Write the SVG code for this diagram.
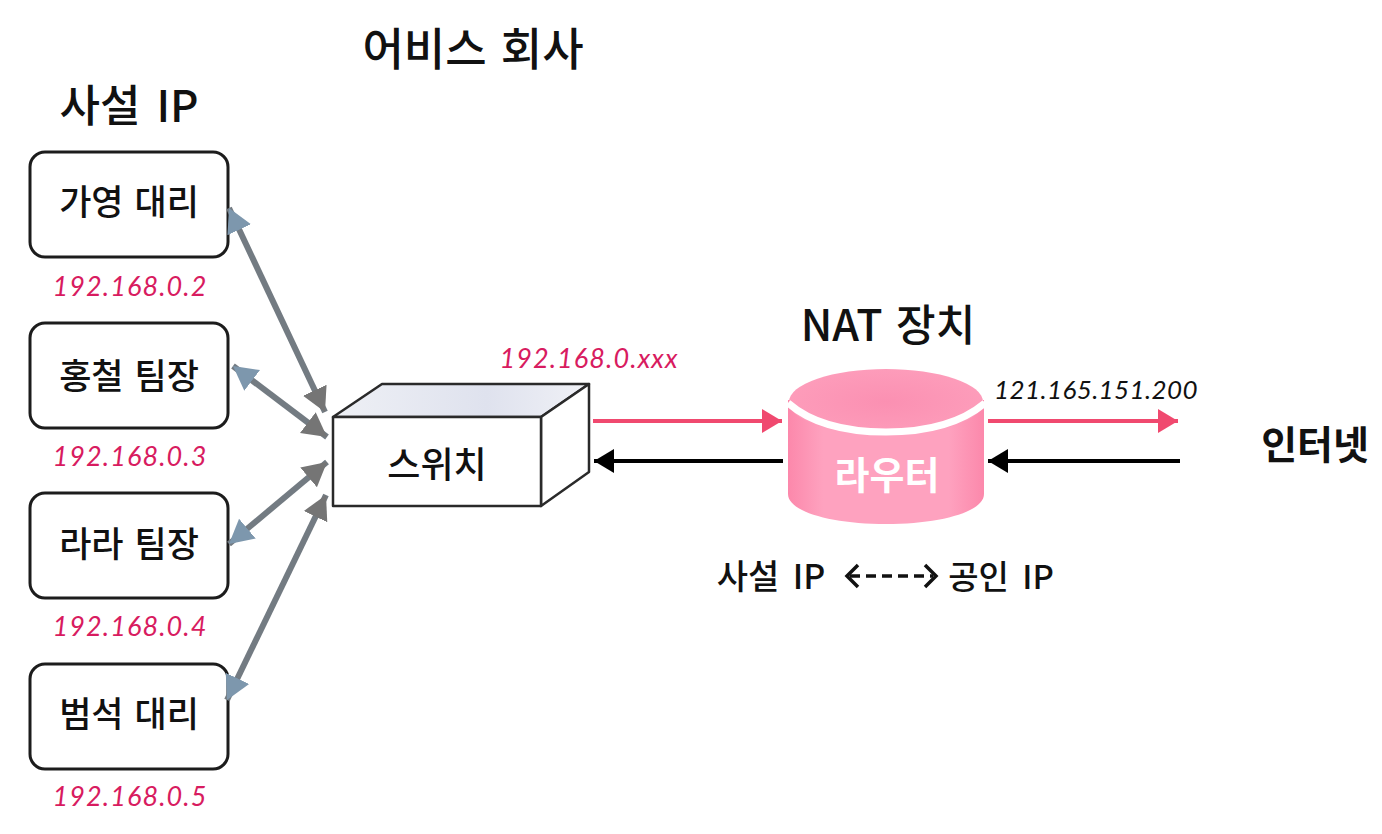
<svg xmlns="http://www.w3.org/2000/svg" width="1382" height="834" viewBox="0 0 1382 834">
<style>
text{font-family:"Noto Sans CJK KR","Noto Sans",sans-serif;fill:#111;text-anchor:middle}
.h{font-size:42px;font-weight:500}
.n{font-size:35px;font-weight:500;word-spacing:3px}
.ip{font-family:"Lato","Noto Sans",sans-serif;font-size:27px;fill:#d81b60;font-style:italic;letter-spacing:1.1px}
.box{fill:#fff;stroke:#1c1c1c;stroke-width:3}
.sw{stroke:#2a2a2a;stroke-width:2.5;stroke-linejoin:round}
.g{stroke:#737b82;stroke-width:6;fill:none}
.p{stroke:#f0496f;stroke-width:4;fill:none;marker-end:url(#mp)}
.k{stroke:#000;stroke-width:4;fill:none;marker-end:url(#mk)}
</style>
<defs>
<marker id="mp" markerUnits="userSpaceOnUse" markerWidth="22" markerHeight="26" refX="20" refY="13" orient="auto"><path d="M0 1L20 13L0 25Z" fill="#f0496f"/></marker>
<marker id="mk" markerUnits="userSpaceOnUse" markerWidth="22" markerHeight="26" refX="20" refY="13" orient="auto"><path d="M0 1L20 13L0 25Z" fill="#000"/></marker>
<marker id="mg" markerUnits="userSpaceOnUse" markerWidth="26" markerHeight="28" refX="24" refY="14" orient="auto"><path d="M0 1L24 14L0 27Z" fill="#757575"/></marker>
<marker id="mb" markerUnits="userSpaceOnUse" markerWidth="26" markerHeight="28" refX="24" refY="14" orient="auto-start-reverse"><path d="M0 1L24 14L0 27Z" fill="#7d97ad"/></marker>
<linearGradient id="top" x1="0" x2="1" y1="0" y2="0"><stop offset="0" stop-color="#eef0f5"/><stop offset=".6" stop-color="#dfe2ee"/><stop offset="1" stop-color="#f0f1f6"/></linearGradient>
<linearGradient id="side" x1="0" x2="1" y1="0" y2="1"><stop offset="0" stop-color="#fff"/><stop offset=".8" stop-color="#fff"/><stop offset="1" stop-color="#e4e6ee"/></linearGradient>
<linearGradient id="body" x1="0" x2="1" y1="0" y2="0"><stop offset="0" stop-color="#fc88ab"/><stop offset=".18" stop-color="#fea2bf"/><stop offset=".82" stop-color="#fea2bf"/><stop offset="1" stop-color="#fc88ab"/></linearGradient>
<radialGradient id="lid"><stop offset="0" stop-color="#fb90b2"/><stop offset="1" stop-color="#fd9cba"/></radialGradient>
</defs>
<rect width="1382" height="834" fill="#fff"/>
<text class="h" x="473" y="66" style="font-size:45px;word-spacing:4px">어비스 회사</text>
<text class="h" x="129" y="122" style="font-size:44px;word-spacing:6px">사설 IP</text>
<g id="node-gayoung"><rect class="box" x="30" y="152" width="198" height="105" rx="15"/><text class="n" x="129" y="215">가영 대리</text><text class="ip" x="130" y="296">192.168.0.2</text></g>
<g id="node-hongcheol"><rect class="box" x="30" y="323" width="198" height="105" rx="15"/><text class="n" x="129" y="389">홍철 팀장</text><text class="ip" x="130" y="466">192.168.0.3</text></g>
<g id="node-lara"><rect class="box" x="30" y="493" width="198" height="105" rx="15"/><text class="n" x="129" y="557">라라 팀장</text><text class="ip" x="130" y="636">192.168.0.4</text></g>
<g id="node-beomseok"><rect class="box" x="30" y="664" width="198" height="105" rx="15"/><text class="n" x="129" y="727">범석 대리</text><text class="ip" x="130" y="806">192.168.0.5</text></g>
<g id="node-switch">
<path class="sw" d="M333 417L382 384H589L541 417Z" fill="url(#top)"/>
<path class="sw" d="M541 417L589 384V472L541 506Z" fill="url(#side)"/>
<rect class="sw" x="333" y="417" width="208" height="89" fill="#fff"/>
<text class="n" x="437" y="478" style="font-size:36px">스위치</text>
<text class="ip" x="589" y="368">192.168.0.xxx</text>
</g>
<g id="node-router">
<path d="M788 400V494C788 512 832 524 886 524C940 524 984 512 984 494V400Z" fill="url(#body)"/>
<ellipse cx="886" cy="402" rx="97" ry="33" fill="url(#lid)"/>
<path d="M788 403C812 424 846 432 886 432C926 432 960 424 985 403" fill="none" stroke="#fff" stroke-width="7"/>
<text x="887" y="489" font-size="38" font-weight="700" style="fill:#fff">라우터</text>
<text class="h" x="888" y="341" style="word-spacing:4px;font-size:43px">NAT 장치</text>
<text x="1096" y="399" font-size="26" style="font-family:Lato,'Noto Sans',sans-serif;font-style:italic;letter-spacing:.4px">121.165.151.200</text>
</g>
<g id="node-internet"><text class="h" x="1315" y="459" style="font-weight:700;font-size:39px">인터넷</text></g>
<g id="nat-note">
<text x="771" y="589" font-size="34" font-weight="500" word-spacing="6">사설 IP</text>
<text x="1001" y="589" font-size="33" font-weight="500" word-spacing="6">공인 IP</text>
</g>
<g id="connectors">
<path class="g" d="M229 208L325 412" marker-start="url(#mb)" marker-end="url(#mg)"/>
<path class="g" d="M233 366L327 437" marker-start="url(#mb)" marker-end="url(#mg)"/>
<path class="g" d="M229 544L327 462" marker-start="url(#mb)" marker-end="url(#mg)"/>
<path class="g" d="M227 700L326 495" marker-start="url(#mb)" marker-end="url(#mg)"/>
<path class="p" d="M593 421H782"/>
<path class="k" d="M783 461H594"/>
<path class="p" d="M988 421H1178"/>
<path class="k" d="M1180 461H988"/>
<path d="M858 565L847 576L858 587M925 565L936 576L925 587" fill="none" stroke="#111" stroke-width="3.5"/>
<path d="M850 576H933" fill="none" stroke="#111" stroke-width="3.5" stroke-dasharray="10 6"/>
</g>
</svg>
